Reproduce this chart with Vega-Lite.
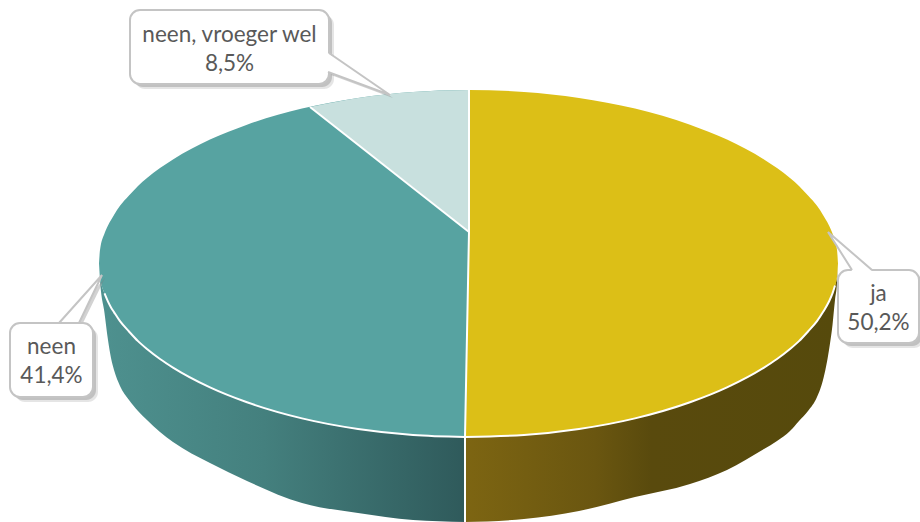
{
"$schema":"https://vega.github.io/schema/vega-lite/v6.json",
"width":920,"height":522,
"autosize":"none",
"padding":0,
"background":"white",
"config":{"view":{"stroke":null}},
"datasets":{
"top":[
{"slice":"ja","x":465,"y":90,"y2":437},{"slice":"ja","x":469,"y":90,"y2":437},{"slice":"ja","x":524,"y":92,"y2":435},{"slice":"ja","x":579,"y":98,"y2":429},{"slice":"ja","x":635,"y":108.6,"y2":418.4},{"slice":"ja","x":690,"y":124.7,"y2":402.3},{"slice":"ja","x":727,"y":139.6,"y2":387.4},{"slice":"ja","x":764,"y":159.4,"y2":367.6},{"slice":"ja","x":777,"y":168,"y2":359},{"slice":"ja","x":790,"y":178,"y2":349},{"slice":"ja","x":799,"y":185.9,"y2":341.1},{"slice":"ja","x":808,"y":195.5,"y2":331.5},{"slice":"ja","x":817,"y":205.8,"y2":321.2},{"slice":"ja","x":823,"y":214.9,"y2":312.1},{"slice":"ja","x":829,"y":225.5,"y2":301.5},{"slice":"ja","x":832.5,"y":233.6,"y2":293.4},{"slice":"ja","x":837,"y":250,"y2":277},{"slice":"ja","x":838,"y":263.5,"y2":263.5},
{"slice":"neen","x":99,"y":263.5,"y2":263.5},{"slice":"neen","x":100,"y":250,"y2":277},{"slice":"neen","x":104.5,"y":233.6,"y2":293.4},{"slice":"neen","x":108,"y":225.5,"y2":301.6},{"slice":"neen","x":114,"y":214.9,"y2":312.1},{"slice":"neen","x":120,"y":205.8,"y2":321.2},{"slice":"neen","x":129,"y":195.5,"y2":331.5},{"slice":"neen","x":138,"y":185.9,"y2":341.1},{"slice":"neen","x":147,"y":178,"y2":349},{"slice":"neen","x":160,"y":168,"y2":359},{"slice":"neen","x":173,"y":159.4,"y2":367.6},{"slice":"neen","x":210,"y":139.6,"y2":387.4},{"slice":"neen","x":247,"y":124.7,"y2":402.3},{"slice":"neen","x":302,"y":108.6,"y2":418.4},{"slice":"neen","x":358,"y":98,"y2":429},{"slice":"neen","x":413,"y":92,"y2":435},{"slice":"neen","x":465,"y":90,"y2":437},{"slice":"neen","x":469,"y":90,"y2":232},
{"slice":"neen, vroeger wel","x":310,"y":107,"y2":107},{"slice":"neen, vroeger wel","x":358,"y":98,"y2":144.7},{"slice":"neen, vroeger wel","x":413,"y":92,"y2":187.2},{"slice":"neen, vroeger wel","x":469,"y":90,"y2":232}
],
"side":[
{"slice":"neen","x":99,"y":263.5,"y2":263.5},{"slice":"neen","x":100,"y":277,"y2":280},{"slice":"neen","x":104.5,"y":293.4,"y2":313},{"slice":"neen","x":108,"y":301.6,"y2":340},{"slice":"neen","x":111,"y":307.4,"y2":358},{"slice":"neen","x":114,"y":312.1,"y2":370},{"slice":"neen","x":120,"y":321.2,"y2":386},{"slice":"neen","x":129,"y":331.5,"y2":400},{"slice":"neen","x":138,"y":341.1,"y2":411},{"slice":"neen","x":147,"y":349,"y2":420},{"slice":"neen","x":160,"y":359,"y2":432},{"slice":"neen","x":173,"y":367.6,"y2":442},{"slice":"neen","x":210,"y":387.4,"y2":463},{"slice":"neen","x":247,"y":402.3,"y2":481},{"slice":"neen","x":302,"y":418.4,"y2":503},{"slice":"neen","x":358,"y":429,"y2":513},{"slice":"neen","x":413,"y":435,"y2":520},{"slice":"neen","x":465,"y":437,"y2":522},
{"slice":"ja","x":465,"y":437,"y2":522},{"slice":"ja","x":524,"y":435,"y2":519},{"slice":"ja","x":579,"y":429,"y2":511},{"slice":"ja","x":635,"y":418.4,"y2":497},{"slice":"ja","x":690,"y":402.3,"y2":484},{"slice":"ja","x":727,"y":387.4,"y2":470},{"slice":"ja","x":764,"y":367.6,"y2":449},{"slice":"ja","x":777,"y":359,"y2":441},{"slice":"ja","x":790,"y":349,"y2":431},{"slice":"ja","x":799,"y":341.1,"y2":421},{"slice":"ja","x":808,"y":331.5,"y2":411},{"slice":"ja","x":817,"y":321.2,"y2":397},{"slice":"ja","x":823,"y":312.1,"y2":380},{"slice":"ja","x":829,"y":301.5,"y2":350},{"slice":"ja","x":832.5,"y":293.4,"y2":325},{"slice":"ja","x":835,"y":285.5,"y2":300},{"slice":"ja","x":837,"y":277,"y2":283},{"slice":"ja","x":838,"y":263.5,"y2":263.5}
],
"dividers":[
{"edge":"a","i":1,"x":469,"y":90},{"edge":"a","i":2,"x":469,"y":232},{"edge":"a","i":3,"x":310,"y":107},
{"edge":"b","i":1,"x":469,"y":232},{"edge":"b","i":2,"x":465,"y":437},{"edge":"b","i":3,"x":465,"y":522}
],
"boxes":[
{"label":"neen, vroeger wel","share":"8,5%","x":130,"x2":329,"y":10,"y2":84,"cx":229.5,"ly":35,"vy":64},
{"label":"ja","share":"50,2%","x":838,"x2":919,"y":270,"y2":343,"cx":878.5,"ly":294,"vy":323},
{"label":"neen","share":"41,4%","x":10,"x2":93,"y":323,"y2":397,"cx":51.5,"ly":347,"vy":376}
],
"tails":[
{"tail":"a","x":328,"y":53,"y2":72},{"tail":"a","x":390,"y":95,"y2":95},
{"tail":"b","x":828,"y":232,"y2":232},{"tail":"b","x":852,"y":252.7,"y2":271},{"tail":"b","x":872,"y":271,"y2":271},
{"tail":"c","x":59,"y":322,"y2":322},{"tail":"c","x":79,"y":300.7,"y2":322},{"tail":"c","x":102,"y":275,"y2":275}
],
"tailEdges":[
{"edge":"a1","i":1,"x":329,"y":53},{"edge":"a1","i":2,"x":390,"y":95},{"edge":"a1","i":3,"x":328,"y":72},
{"edge":"b1","i":1,"x":852,"y":270},{"edge":"b1","i":2,"x":828,"y":232},{"edge":"b1","i":3,"x":872,"y":270},
{"edge":"c1","i":1,"x":59,"y":323},{"edge":"c1","i":2,"x":102,"y":275},{"edge":"c1","i":3,"x":79,"y":323}
]
},
"encoding":{
"x":{"field":"x","type":"quantitative","axis":null,"scale":{"domain":[0,920],"nice":false,"zero":false}},
"y":{"field":"y","type":"quantitative","axis":null,"stack":null,"scale":{"domain":[522,0],"nice":false,"zero":false}}
},
"layer":[
{"data":{"name":"side"},"transform":[{"filter":"datum.slice=='neen'"}],
 "mark":{"type":"area","interpolate":"monotone","orient":"vertical","color":{"gradient":"linear","x1":0,"x2":1,"y1":0,"y2":0,"stops":[{"offset":0,"color":"#4e918f"},{"offset":0.45,"color":"#44807e"},{"offset":1,"color":"#2f5a5b"}]}},
 "encoding":{"y2":{"field":"y2"}}},
{"data":{"name":"side"},"transform":[{"filter":"datum.slice=='ja'"}],
 "mark":{"type":"area","interpolate":"monotone","orient":"vertical","color":{"gradient":"linear","x1":0,"x2":1,"y1":0,"y2":0,"stops":[{"offset":0,"color":"#7d6512"},{"offset":0.35,"color":"#6a5610"},{"offset":0.5,"color":"#594a0d"},{"offset":1,"color":"#564a0c"}]}},
 "encoding":{"y2":{"field":"y2"}}},
{"data":{"name":"top"},"transform":[{"filter":"datum.slice=='ja'"}],
 "mark":{"type":"area","interpolate":"monotone","orient":"vertical","color":"#dcbf17"},
 "encoding":{"y2":{"field":"y2"}}},
{"data":{"name":"top"},"transform":[{"filter":"datum.slice=='neen'"}],
 "mark":{"type":"area","interpolate":"monotone","orient":"vertical","color":"#57a3a1"},
 "encoding":{"y2":{"field":"y2"}}},
{"data":{"name":"top"},"transform":[{"filter":"datum.slice=='neen, vroeger wel'"}],
 "mark":{"type":"area","interpolate":"monotone","orient":"vertical","color":"#c8e0de"},
 "encoding":{"y2":{"field":"y2"}}},
{"data":{"name":"side"},"transform":[{"filter":"datum.x>=102 && datum.x<=836"}],
 "mark":{"type":"line","interpolate":"monotone","color":"white","strokeWidth":2},
 "encoding":{"detail":{"field":"slice"}}},
{"data":{"name":"dividers"},
 "mark":{"type":"line","color":"white","strokeWidth":2},
 "encoding":{"detail":{"field":"edge"},"order":{"field":"i"}}},
{"data":{"name":"boxes"},"mark":{"type":"rect","color":"#7f7f7f","opacity":0.2,"cornerRadius":10,"xOffset":5,"x2Offset":5,"yOffset":5,"y2Offset":5},
 "encoding":{"x2":{"field":"x2"},"y2":{"field":"y2"}}},
{"data":{"name":"boxes"},"mark":{"type":"rect","color":"#7f7f7f","opacity":0.35,"cornerRadius":10,"xOffset":3,"x2Offset":3,"yOffset":3,"y2Offset":3},
 "encoding":{"x2":{"field":"x2"},"y2":{"field":"y2"}}},
{"data":{"name":"tails"},"mark":{"type":"area","orient":"vertical","color":"#7f7f7f","opacity":0.35,"xOffset":3,"x2Offset":3,"yOffset":3,"y2Offset":3},
 "encoding":{"detail":{"field":"tail"},"y2":{"field":"y2"}}},
{"data":{"name":"boxes"},"mark":{"type":"rect","fill":"white","stroke":"#c4c4c4","strokeWidth":2,"cornerRadius":10},
 "encoding":{"x2":{"field":"x2"},"y2":{"field":"y2"}}},
{"data":{"name":"tails"},"mark":{"type":"area","orient":"vertical","color":"white"},
 "encoding":{"detail":{"field":"tail"},"y2":{"field":"y2"}}},
{"data":{"name":"tailEdges"},"mark":{"type":"line","color":"#c4c4c4","strokeWidth":2},
 "encoding":{"detail":{"field":"edge"},"order":{"field":"i"}}},
{"data":{"name":"boxes"},"mark":{"type":"text","font":"Lato","fontSize":22.5,"color":"#595959","align":"center","baseline":"middle"},
 "encoding":{"x":{"field":"cx","type":"quantitative"},"y":{"field":"ly","type":"quantitative"},"text":{"field":"label"}}},
{"data":{"name":"boxes"},"mark":{"type":"text","font":"Lato","fontSize":22.5,"color":"#595959","align":"center","baseline":"middle"},
 "encoding":{"x":{"field":"cx","type":"quantitative"},"y":{"field":"vy","type":"quantitative"},"text":{"field":"share"}}}
]
}
